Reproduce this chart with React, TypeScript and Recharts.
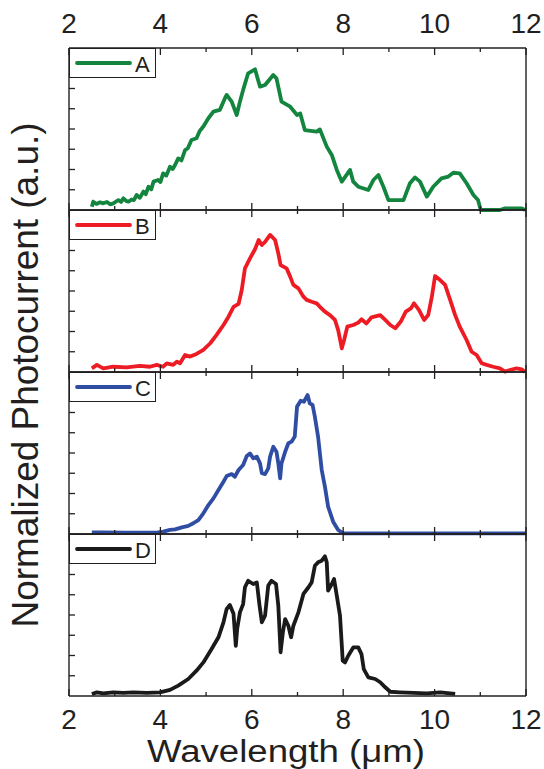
import { LineChart, Line, XAxis, YAxis } from 'recharts';

const INK = '#231f20';
const FONT = '"Liberation Sans", Arial, Helvetica, sans-serif';

// axis ticks (wavelength in µm, arbitrary photocurrent units)
const xTicks = [2, 3, 4, 5, 6, 7, 8, 9, 10, 11, 12];
const yTicks = [1, 2, 3, 4, 5, 6, 7];

// device A
const waveA = [2.5, 2.53, 2.6, 2.68, 2.75, 2.83, 2.9, 2.97, 3.03, 3.08, 3.14, 3.19, 3.25, 3.3, 3.37, 3.42, 3.48, 3.55, 3.63, 3.68, 3.74, 3.8, 3.85, 3.95, 4.0, 4.06, 4.13, 4.21, 4.27, 4.32, 4.39, 4.46, 4.54, 4.6, 4.68, 4.79, 4.86, 4.94, 5.05, 5.16, 5.3, 5.41, 5.45, 5.56, 5.67, 5.74, 5.81, 5.92, 6.07, 6.18, 6.29, 6.47, 6.54, 6.65, 6.84, 6.99, 7.06, 7.16, 7.42, 7.49, 7.64, 7.75, 7.86, 7.97, 8.15, 8.22, 8.33, 8.55, 8.66, 8.77, 8.88, 8.99, 9.32, 9.46, 9.57, 9.68, 9.83, 9.97, 10.15, 10.3, 10.41, 10.55, 10.7, 10.85, 10.95, 11.01, 11.43, 11.54, 11.91, 11.98];
const respA = [0.16, 0.41, 0.3, 0.38, 0.33, 0.4, 0.28, 0.33, 0.42, 0.49, 0.4, 0.58, 0.45, 0.41, 0.52, 0.49, 0.74, 0.6, 0.91, 0.78, 1.15, 1.02, 1.4, 1.48, 1.38, 1.81, 1.7, 2.14, 2.02, 2.22, 2.55, 2.45, 2.96, 3.05, 3.46, 3.54, 3.9, 4.12, 4.53, 4.86, 4.94, 5.51, 5.68, 5.35, 4.69, 5.35, 5.93, 6.75, 6.95, 6.09, 6.17, 6.67, 6.5, 5.35, 5.1, 4.69, 4.77, 3.95, 3.87, 3.98, 3.13, 2.72, 1.98, 1.4, 1.98, 1.4, 1.15, 0.99, 1.48, 1.73, 1.15, 0.49, 0.49, 1.32, 1.61, 1.4, 0.66, 1.15, 1.56, 1.65, 1.84, 1.81, 1.32, 0.74, 0.49, 0, 0, 0.08, 0.08, 0];

// device B
const waveB = [2.5, 2.61, 2.75, 2.97, 3.26, 3.55, 3.77, 3.92, 4.06, 4.14, 4.28, 4.36, 4.43, 4.54, 4.65, 4.79, 4.94, 5.09, 5.23, 5.38, 5.49, 5.6, 5.71, 5.78, 5.85, 5.96, 6.07, 6.15, 6.22, 6.29, 6.4, 6.51, 6.58, 6.63, 6.76, 6.84, 6.91, 7.02, 7.13, 7.2, 7.31, 7.42, 7.49, 7.6, 7.71, 7.82, 7.89, 7.97, 8.02, 8.09, 8.22, 8.33, 8.4, 8.51, 8.62, 8.81, 8.92, 9.03, 9.14, 9.26, 9.37, 9.48, 9.55, 9.66, 9.77, 9.86, 9.94, 10.01, 10.12, 10.23, 10.34, 10.45, 10.55, 10.7, 10.81, 10.92, 11.03, 11.14, 11.28, 11.43, 11.54, 11.65, 11.79, 11.91, 11.98];
const respB = [0.18, 0.35, 0.18, 0.26, 0.23, 0.3, 0.26, 0.35, 0.26, 0.43, 0.35, 0.51, 0.43, 0.84, 0.76, 0.89, 1.09, 1.42, 1.83, 2.32, 2.73, 3.22, 3.36, 4.05, 5.12, 5.61, 6.06, 6.52, 6.27, 6.43, 6.77, 6.52, 5.86, 5.28, 5.12, 4.71, 4.3, 4.13, 3.72, 3.56, 3.47, 3.39, 3.22, 2.98, 2.81, 2.57, 2.07, 1.17, 1.58, 2.24, 2.32, 2.44, 2.6, 2.4, 2.7, 2.81, 2.57, 2.32, 2.16, 2.49, 2.98, 3.14, 3.39, 3.06, 2.57, 2.81, 3.72, 4.74, 4.54, 4.3, 3.56, 2.81, 2.24, 1.58, 1.0, 0.84, 0.43, 0.35, 0.26, 0.18, 0.02, 0.1, 0.18, 0.13, 0];

// device C
const waveC = [2.5, 2.75, 3.26, 3.92, 4.06, 4.21, 4.32, 4.47, 4.61, 4.72, 4.83, 4.94, 5.05, 5.16, 5.27, 5.38, 5.45, 5.56, 5.63, 5.71, 5.81, 5.89, 5.96, 6.03, 6.11, 6.18, 6.22, 6.29, 6.36, 6.4, 6.47, 6.54, 6.58, 6.62, 6.65, 6.73, 6.8, 6.87, 6.94, 6.99, 7.07, 7.14, 7.22, 7.27, 7.33, 7.38, 7.45, 7.53, 7.6, 7.67, 7.78, 7.89, 8.0, 8.37, 9.1, 10.55, 12.0];
const respC = [0.08, 0.08, 0.07, 0.07, 0.12, 0.2, 0.23, 0.33, 0.4, 0.53, 0.69, 1.02, 1.43, 1.76, 2.17, 2.58, 2.86, 2.96, 2.83, 3.16, 3.41, 3.85, 3.98, 3.74, 3.82, 3.49, 3.0, 2.96, 3.24, 3.82, 4.31, 4.06, 3.49, 2.75, 3.49, 4.06, 4.48, 4.56, 4.81, 6.29, 6.58, 6.53, 6.86, 6.45, 6.37, 5.79, 4.81, 3.16, 2.34, 1.35, 0.61, 0.2, 0.03, 0.03, 0.03, 0.03, 0.03];

// device D
const waveD = [2.5, 2.61, 2.75, 2.97, 3.19, 3.41, 3.7, 3.99, 4.21, 4.39, 4.61, 4.79, 4.94, 5.12, 5.27, 5.38, 5.45, 5.52, 5.6, 5.65, 5.68, 5.74, 5.81, 5.85, 5.92, 6.03, 6.11, 6.17, 6.22, 6.29, 6.36, 6.43, 6.53, 6.58, 6.63, 6.68, 6.73, 6.8, 6.86, 6.91, 7.02, 7.13, 7.24, 7.31, 7.38, 7.45, 7.53, 7.6, 7.64, 7.67, 7.75, 7.8, 7.86, 7.93, 7.99, 8.04, 8.11, 8.22, 8.33, 8.4, 8.45, 8.55, 8.7, 8.81, 8.92, 9.03, 9.24, 9.54, 9.83, 10.12, 10.45];
const respD = [0.1, 0.18, 0.13, 0.18, 0.15, 0.18, 0.15, 0.18, 0.3, 0.51, 0.84, 1.25, 1.66, 2.32, 2.9, 3.64, 4.3, 4.49, 4.06, 2.48, 3.31, 4.13, 4.54, 5.37, 5.69, 5.53, 5.61, 4.46, 3.64, 3.97, 5.45, 5.69, 5.53, 4.46, 2.16, 3.15, 3.8, 3.47, 2.9, 3.47, 4.13, 5.04, 5.37, 5.61, 6.43, 6.6, 6.68, 6.9, 6.6, 5.2, 5.53, 5.78, 4.95, 3.97, 1.74, 1.66, 1.99, 2.4, 2.4, 2.07, 1.33, 0.92, 0.84, 0.68, 0.43, 0.21, 0.18, 0.15, 0.13, 0.18, 0.1];

const names = ['A', 'B', 'C', 'D'];
const colors = ['#13853f', '#ed1c24', '#2f4da2', '#1a1a1a'];
const waves = [waveA, waveB, waveC, waveD];
const resps = [respA, respB, respC, respD];

// layout
const W = 544;
const PLOT_LEFT = 69;
const PLOT_RIGHT = 526;
const FIRST_TOP = 48;
const PANEL_H = 162;
const PAD = 6;
const AX = 1; // thickness reserved for each axis

const XTick = (props: any) => {
  const { x, y, payload, side, showLabel } = props;
  const major = payload.value % 2 === 0;
  const len = major ? 7 : 4;
  const dir = side === 'bottom' ? -1 : 1;
  return (
    <g>
      <line x1={x} y1={y} x2={x} y2={y + dir * len} stroke={INK} strokeWidth={1.3} />
      {showLabel && major && (
        <text
          x={x}
          y={side === 'bottom' ? y + 33 : y - 15}
          textAnchor="middle"
          fontSize={28}
          fill={INK}
          fontFamily={FONT}
        >
          {payload.value}
        </text>
      )}
    </g>
  );
};

const YTick = (props: any) => {
  const { x, y, side } = props;
  const dir = side === 'left' ? 1 : -1;
  return <line x1={x} y1={y} x2={x + dir * 6} y2={y} stroke={INK} strokeWidth={1.3} />;
};

const Panel = ({ index }: { index: number }) => {
  const first = index === 0;
  const last = index === names.length - 1;
  const plotTop = FIRST_TOP + index * PANEL_H;
  const mt = first ? FIRST_TOP : PAD;
  const mb = last ? 48 : PAD;
  const data = waves[index].map((w, i) => ({ wl: w, v: resps[index][i] }));
  const axisLine = { stroke: INK, strokeWidth: 1.4 };

  return (
    <div style={{ position: 'absolute', left: 0, top: plotTop - mt }}>
      <LineChart
        width={W}
        height={mt + PANEL_H + mb}
        data={data}
        margin={{ top: mt - AX, right: W - PLOT_RIGHT - AX, bottom: mb - AX, left: PLOT_LEFT - AX }}
      >
        <XAxis
          xAxisId="bottom"
          dataKey="wl"
          type="number"
          domain={[2, 12]}
          ticks={xTicks}
          interval={0}
          orientation="bottom"
          height={AX}
          tickSize={0}
          tickMargin={0}
          axisLine={axisLine}
          tickLine={false}
          tick={(p: any) => <XTick {...p} side="bottom" showLabel={last} />}
        />
        <XAxis
          xAxisId="top"
          dataKey="wl"
          type="number"
          domain={[2, 12]}
          ticks={xTicks}
          interval={0}
          orientation="top"
          height={AX}
          tickSize={0}
          tickMargin={0}
          axisLine={axisLine}
          tickLine={false}
          tick={(p: any) => <XTick {...p} side="top" showLabel={first} />}
        />
        <YAxis
          yAxisId="left"
          type="number"
          domain={[0, 8]}
          ticks={yTicks}
          interval={0}
          width={AX}
          tickSize={0}
          tickMargin={0}
          axisLine={axisLine}
          tickLine={false}
          tick={(p: any) => <YTick {...p} side="left" />}
        />
        <YAxis
          yAxisId="right"
          orientation="right"
          type="number"
          domain={[0, 8]}
          ticks={yTicks}
          interval={0}
          width={AX}
          tickSize={0}
          tickMargin={0}
          axisLine={axisLine}
          tickLine={false}
          tick={(p: any) => <YTick {...p} side="right" />}
        />
        <Line
          xAxisId="bottom"
          yAxisId="left"
          type="linear"
          dataKey="v"
          stroke={colors[index]}
          strokeWidth={3.8}
          strokeLinejoin="round"
          dot={false}
          activeDot={false}
          isAnimationActive={false}
        />
      </LineChart>
    </div>
  );
};

export default function App() {
  return (
    <div style={{ position: 'absolute', left: 0, top: 0, width: W, height: 769, background: '#fff' }}>
      {names.map((n, i) => (
        <Panel key={n} index={i} />
      ))}
      <svg
        width={W}
        height={769}
        style={{ position: 'absolute', left: 0, top: 0, pointerEvents: 'none' }}
        fontFamily={FONT}
      >
        {names.map((n, i) => {
          const top = FIRST_TOP + i * PANEL_H + 0.5;
          return (
            <g key={n}>
              <rect x={PLOT_LEFT + 0.5} y={top} width={86} height={29} fill="#fff" stroke={INK} strokeWidth={1} />
              <line x1={77} y1={top + 14.5} x2={130} y2={top + 14.5} stroke={colors[i]} strokeWidth={3.8} strokeLinecap="round" />
              <text x={135} y={top + 23} fontSize={22} fill={INK}>
                {n}
              </text>
            </g>
          );
        })}
        <text
          x={286}
          y={762}
          textAnchor="middle"
          fontSize={31}
          fill={INK}
          textLength={278}
          lengthAdjust="spacingAndGlyphs"
        >
          Wavelength (μm)
        </text>
        <text
          transform="translate(38, 375) rotate(-90)"
          textAnchor="middle"
          fontSize={36}
          fill={INK}
          textLength={505}
          lengthAdjust="spacingAndGlyphs"
        >
          Normalized Photocurrent (a.u.)
        </text>
      </svg>
    </div>
  );
}
